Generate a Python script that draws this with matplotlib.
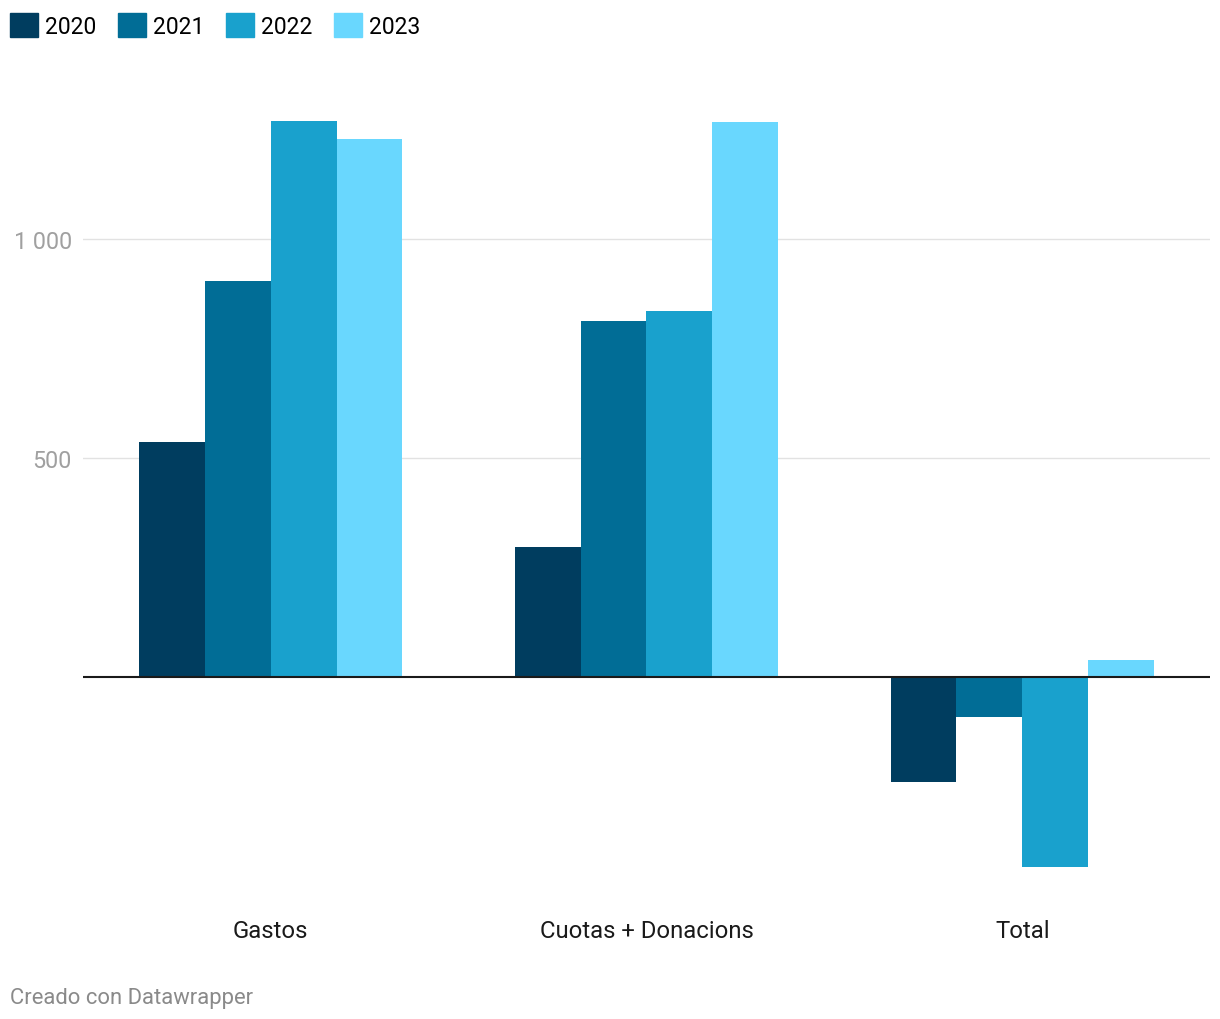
import numpy as np
import matplotlib.pyplot as plt
from matplotlib.patches import Patch

plt.rcParams['font.family'] = ['Roboto', 'DejaVu Sans']

# datos
categorias = ['Gastos', 'Cuotas + Donacions', 'Total']
anios = ['2020', '2021', '2022', '2023']
v2020 = [536, 297, -239]
v2021 = [904, 813, -91]
v2022 = [1269, 836, -433]
v2023 = [1228, 1267, 39]
colores = ['#003d5f', '#016d96', '#19a1cd', '#69d7fe']

fig = plt.figure(figsize=(12.2, 10.2), dpi=100)
ax = fig.add_axes([83/1220, 140/1020, 1127/1220, 780/1020])

x = np.arange(len(categorias))
w = 0.175
series = [v2020, v2021, v2022, v2023]
for i, vals in enumerate(series):
    ax.bar(x + (i - 1.5) * w, vals, width=w, color=colores[i], zorder=3, linewidth=0)

ax.set_xlim(-0.5, 2.5)
ax.set_ylim(-461, 1320)
ax.axhline(0, color='#1a1a1a', lw=1.5, zorder=4)

ax.set_yticks([500, 1000])
ax.set_yticklabels(['500', '1 000'])
ax.grid(axis='y', color='#e2e2e2', lw=1, zorder=0)
ax.tick_params(axis='y', length=0, pad=8, labelsize=16.8, labelcolor='#a0a0a0')
ax.set_xticks([])
for s in ax.spines.values():
    s.set_visible(False)

for xi, c in zip(x, categorias):
    fig.text((83 + 375.7 * (xi + 0.5)) / 1220, 1 - 932/1020, c, ha='center', va='center',
             fontsize=17.2, color='#1a1a1a')

handles = [Patch(color=colores[i], label=anios[i]) for i in range(4)]
fig.legend(handles=handles, loc='upper left', bbox_to_anchor=(10/1220, 1 - 14/1020), ncol=4,
           frameon=False, fontsize=16.5, handlelength=1.22, handleheight=1.22,
           handletextpad=0.3, columnspacing=0.95, borderaxespad=0, borderpad=0)

fig.text(10/1220, 1 - 999/1020, 'Creado con Datawrapper', ha='left', va='center',
         fontsize=15.8, color='#8a8a8a')

fig.savefig('out.png', dpi=100)
